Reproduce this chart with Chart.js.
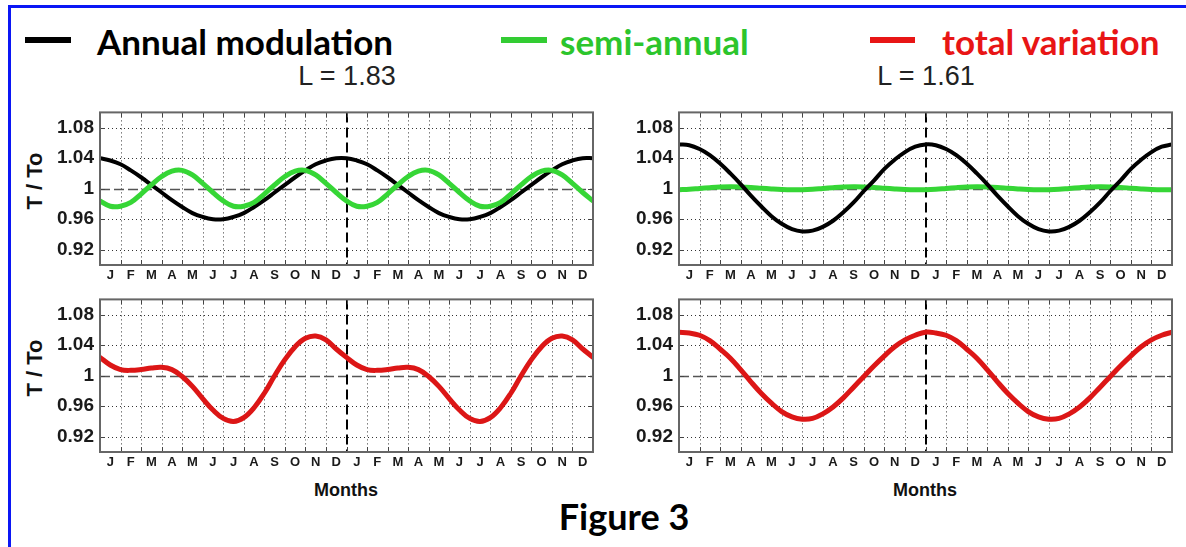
<!DOCTYPE html>
<html>
<head>
<meta charset="utf-8">
<script src="https://cdn.jsdelivr.net/npm/chart.js@4.4.1/dist/chart.umd.min.js"></script>
<style>
  body { margin: 0; width: 1186px; height: 547px; background: #fff; position: relative; overflow: hidden;
         font-family: 'Liberation Sans', Arial, sans-serif; }
  .frame { position: absolute; left: 8px; top: 5px; width: 1180px; height: 560px;
           border-top: 3px solid #0b17f5; border-left: 3px solid #0b17f5; }
  canvas { position: absolute; }
  .txt { position: absolute; white-space: nowrap; }
  .center { transform: translate(-50%, -50%); }
  .legend { font-family: Lato, 'Open Sans', sans-serif; font-weight: 700; font-size: 35px; top: 41px; transform: translateY(-50%); }
  .bar { position: absolute; top: 37px; height: 6px; }
  .ptitle { font-size: 27px; color: #222; top: 76px; }
  .ytitle { font-size: 22px; font-weight: bold; color: #111; left: 35px; transform: translate(-50%, -50%) rotate(-90deg); }
  .xtitle { font-size: 18px; font-weight: bold; color: #111; top: 490px; }
  .fig { font-family: Lato, 'Open Sans', sans-serif; font-weight: 700; font-size: 36px; left: 624px; top: 516px; }
</style>
</head>
<body>
<div class="frame"></div>

<div class="bar" style="left:25px;width:46px;background:#000"></div>
<div class="txt legend" style="left:97px;color:#000">Annual modulation</div>
<div class="bar" style="left:501px;width:46px;background:#33cc33"></div>
<div class="txt legend" style="left:560px;color:#2cc52c">semi-annual</div>
<div class="bar" style="left:870px;width:45px;background:#e81515"></div>
<div class="txt legend" style="left:942px;color:#e81515">total variation</div>

<div class="txt center ptitle" style="left:347px">L = 1.83</div>
<div class="txt center ptitle" style="left:926px">L = 1.61</div>

<div class="txt ytitle" style="top:181px">T / To</div>
<div class="txt ytitle" style="top:368px">T / To</div>

<div class="txt center xtitle" style="left:346px">Months</div>
<div class="txt center xtitle" style="left:925px">Months</div>

<div class="txt center fig">Figure 3</div>

<canvas id="topLeft" width="580" height="190" style="left:20px;top:95px"></canvas>
<canvas id="topRight" width="580" height="190" style="left:600px;top:95px"></canvas>
<canvas id="botLeft" width="580" height="190" style="left:20px;top:282px"></canvas>
<canvas id="botRight" width="580" height="190" style="left:600px;top:282px"></canvas>

<script>
// two years of months, Jan..Dec twice
const monthLabels = ['J','F','M','A','M','J','J','A','S','O','N','D',
                     'J','F','M','A','M','J','J','A','S','O','N','D'];
const monthLines = [1,2,3,4,5,6,7,8,9,10,11,12,13,14,15,16,17,18,19,20,21,22,23];
const yearBreak = 12;
const yTicks = [0.92, 0.96, 1, 1.04, 1.08];

// sample positions, in months from start of first January
const halfMonths = [0,0.5,1,1.5,2,2.5,3,3.5,4,4.5,5,5.5,6,6.5,7,7.5,8,8.5,9,9.5,10,10.5,11,11.5,
                    12,12.5,13,13.5,14,14.5,15,15.5,16,16.5,17,17.5,18,18.5,19,19.5,20,20.5,21,21.5,
                    22,22.5,23,23.5,24];

// L = 1.83
const annual183 = [1.040,1.037,1.032,1.024,1.015,1.005,0.995,0.985,0.976,0.968,0.963,0.960,
                   0.960,0.963,0.968,0.976,0.985,0.995,1.005,1.015,1.024,1.032,1.037,1.040,
                   1.040,1.037,1.032,1.024,1.015,1.005,0.995,0.985,0.976,0.968,0.963,0.960,
                   0.960,0.963,0.968,0.976,0.985,0.995,1.005,1.015,1.024,1.032,1.037,1.040,
                   1.040];
const semi183 = [0.984,0.977,0.977,0.982,0.993,1.005,1.016,1.023,1.024,1.018,1.007,0.995,
                 0.984,0.977,0.977,0.982,0.993,1.005,1.016,1.023,1.024,1.018,1.007,0.995,
                 0.984,0.977,0.977,0.982,0.993,1.005,1.016,1.023,1.024,1.018,1.007,0.995,
                 0.984,0.977,0.977,0.982,0.993,1.005,1.016,1.023,1.024,1.018,1.007,0.995,
                 0.984];
const total183 = [1.024,1.014,1.008,1.007,1.008,1.010,1.011,1.008,0.999,0.986,0.970,0.955,
                  0.944,0.940,0.945,0.958,0.977,1.000,1.021,1.038,1.049,1.052,1.047,1.035,
                  1.024,1.014,1.008,1.007,1.008,1.010,1.011,1.008,0.999,0.986,0.970,0.955,
                  0.944,0.940,0.945,0.958,0.977,1.000,1.021,1.038,1.049,1.052,1.047,1.035,
                  1.024];

// L = 1.61
const annual161 = [1.058,1.057,1.052,1.044,1.033,1.020,1.006,0.991,0.977,0.964,0.954,0.947,
                   0.944,0.945,0.950,0.958,0.969,0.982,0.997,1.011,1.026,1.038,1.048,1.055,
                   1.058,1.057,1.052,1.044,1.033,1.020,1.006,0.991,0.977,0.964,0.954,0.947,
                   0.944,0.945,0.950,0.958,0.969,0.982,0.997,1.011,1.026,1.038,1.048,1.055,
                   1.058];
const semi161 = [0.9987,0.9993,1.0003,1.0013,1.0021,1.0025,1.0023,1.0017,1.0007,0.9997,0.9989,0.9985,
                 0.9987,0.9993,1.0003,1.0013,1.0021,1.0025,1.0023,1.0017,1.0007,0.9997,0.9989,0.9985,
                 0.9987,0.9993,1.0003,1.0013,1.0021,1.0025,1.0023,1.0017,1.0007,0.9997,0.9989,0.9985,
                 0.9987,0.9993,1.0003,1.0013,1.0021,1.0025,1.0023,1.0017,1.0007,0.9997,0.9989,0.9985,
                 0.9987];
const total161 = [1.057,1.056,1.053,1.046,1.035,1.023,1.008,0.992,0.977,0.964,0.953,0.946,
                  0.943,0.944,0.950,0.959,0.971,0.985,0.999,1.013,1.026,1.038,1.047,1.053,
                  1.057,1.056,1.053,1.046,1.035,1.023,1.008,0.992,0.977,0.964,0.953,0.946,
                  0.943,0.944,0.950,0.959,0.971,0.985,0.999,1.013,1.026,1.038,1.047,1.053,
                  1.057];

const BLACK = '#000000';
const GREEN = '#36d636';
const RED = '#dc1616';
const FONT = "'Liberation Sans', Arial, sans-serif";

// dotted grid, dashed unity line, dashed year break, frame with inner ticks
const panelGrid = {
  id: 'panelGrid',
  beforeDatasetsDraw(chart) {
    const { ctx, chartArea: a, scales: { x, y } } = chart;
    ctx.save();
    ctx.lineWidth = 1;
    ctx.strokeStyle = '#333';
    ctx.setLineDash([1, 3]);
    monthLines.forEach(m => {
      if (m === yearBreak) return;
      const px = Math.round(x.getPixelForValue(m)) + 0.5;
      ctx.beginPath(); ctx.moveTo(px, a.top); ctx.lineTo(px, a.bottom); ctx.stroke();
    });
    yTicks.forEach(v => {
      if (v === 1) return;
      const py = Math.round(y.getPixelForValue(v)) + 0.5;
      ctx.beginPath(); ctx.moveTo(a.left, py); ctx.lineTo(a.right, py); ctx.stroke();
    });
    // unity line
    ctx.setLineDash([10, 4]);
    ctx.strokeStyle = '#555';
    ctx.lineWidth = 1.3;
    const p1 = Math.round(y.getPixelForValue(1)) + 0.5;
    ctx.beginPath(); ctx.moveTo(a.left, p1); ctx.lineTo(a.right, p1); ctx.stroke();
    // year break
    ctx.setLineDash([10, 5]);
    ctx.strokeStyle = '#000';
    ctx.lineWidth = 2;
    const pb = Math.round(x.getPixelForValue(yearBreak));
    ctx.beginPath(); ctx.moveTo(pb, a.top); ctx.lineTo(pb, a.bottom); ctx.stroke();
    // short inner ticks on all sides
    ctx.setLineDash([]);
    ctx.lineWidth = 1;
    ctx.strokeStyle = '#444';
    monthLines.forEach(m => {
      const px = Math.round(x.getPixelForValue(m)) + 0.5;
      ctx.beginPath();
      ctx.moveTo(px, a.top); ctx.lineTo(px, a.top + 5);
      ctx.moveTo(px, a.bottom); ctx.lineTo(px, a.bottom - 5);
      ctx.stroke();
    });
    yTicks.forEach(v => {
      const py = Math.round(y.getPixelForValue(v)) + 0.5;
      ctx.beginPath();
      ctx.moveTo(a.left, py); ctx.lineTo(a.left + 5, py);
      ctx.moveTo(a.right, py); ctx.lineTo(a.right - 5, py);
      ctx.stroke();
    });
    ctx.restore();
  },
  afterDatasetsDraw(chart) {
    const { ctx, chartArea: a } = chart;
    ctx.save();
    ctx.strokeStyle = '#666';
    ctx.lineWidth = 2;
    ctx.strokeRect(a.left, a.top, a.right - a.left, a.bottom - a.top);
    ctx.restore();
  }
};

function makePanel(id, series, yWidth, rightPad) {
  return new Chart(document.getElementById(id), {
    type: 'line',
    data: {
      datasets: series.map(s => ({
        data: halfMonths.map((m, i) => ({ x: m, y: s.values[i] })),
        borderColor: s.color,
        borderWidth: s.width,
        pointRadius: 0,
        tension: 0.4,
        fill: false,
        borderCapStyle: 'round'
      }))
    },
    options: {
      responsive: false,
      animation: false,
      events: [],
      layout: { padding: { left: 0, top: 5, right: rightPad, bottom: 0 } },
      plugins: { legend: { display: false }, tooltip: { enabled: false } },
      scales: {
        x: {
          type: 'linear', min: 0, max: 24,
          grid: { display: false, drawTicks: false },
          border: { display: false },
          afterBuildTicks: s => { s.ticks = monthLabels.map((_, i) => ({ value: i + 0.5 })); },
          afterFit: s => { s.height = 20; },
          ticks: {
            autoSkip: false, maxRotation: 0, padding: 3, color: '#1a1a1a',
            font: { family: FONT, size: 13, weight: 'bold' },
            callback: (v, i) => monthLabels[i]
          }
        },
        y: {
          min: 0.9, max: 1.1,
          grid: { display: false, drawTicks: false },
          border: { display: false },
          afterBuildTicks: s => { s.ticks = yTicks.map(v => ({ value: v })); },
          afterFit: s => { s.width = yWidth; },
          ticks: {
            padding: 6, color: '#1a1a1a',
            font: { family: FONT, size: 19, weight: 'bold' },
            callback: v => (v === 1 ? '1' : v.toFixed(2))
          }
        }
      }
    },
    plugins: [panelGrid]
  });
}

makePanel('topLeft', [
  { values: semi183, color: GREEN, width: 5 },
  { values: annual183, color: BLACK, width: 4 }
], 80, 7);
makePanel('topRight', [
  { values: annual161, color: BLACK, width: 4 },
  { values: semi161, color: GREEN, width: 5 }
], 79, 8);
makePanel('botLeft', [{ values: total183, color: RED, width: 5 }], 80, 7);
makePanel('botRight', [{ values: total161, color: RED, width: 5 }], 79, 8);
</script>
</body>
</html>
